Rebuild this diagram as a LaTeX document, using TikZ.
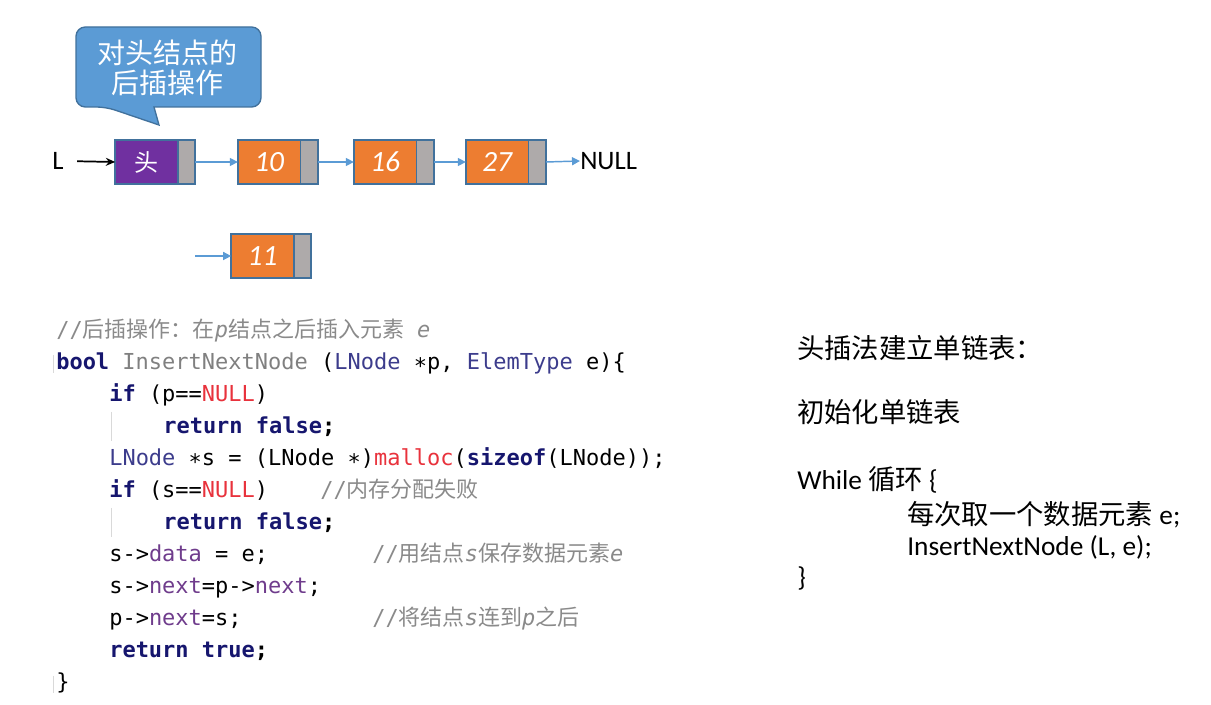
\documentclass[tikz,border=0pt]{standalone}
\usepackage{fontspec}
\setmainfont{Carlito}
\newfontfamily\cjk{Noto Sans CJK SC}
\newfontfamily\codefont{DejaVu Sans Mono}
\usetikzlibrary{positioning, arrows.meta}

\begin{document}
\begin{tikzpicture}[x=0.75pt, y=-0.75pt,
    cell/.style={rectangle, draw=cellborder, line width=1.3pt, inner sep=0pt,
                 outer sep=0pt, minimum height=33pt, text=white},
    datacell/.style={cell, fill=cellorange, minimum width=47pt,
                     font=\fontsize{22}{24}\selectfont\itshape},
    ptrcell/.style={cell, fill=cellgray, minimum width=13pt},
    link/.style={line width=1.1pt, arrowblue,
                 -{Triangle[length=6pt, width=6pt]}},
    code/.style={anchor=base west, inner sep=0pt,
                 font=\codefont\fontsize{16.5}{18}\selectfont},
    note/.style={anchor=base west, inner sep=0pt,
                 font=\fontsize{20.5}{22}\selectfont},
    guide/.style={line width=0.6pt, black!15}
]
% Office-Farben der Folie: Knoten orange/grau, Kopf violett
\definecolor{cellorange}{HTML}{ED7D31}
\definecolor{cellgray}{HTML}{AEAAAA}
\definecolor{cellborder}{HTML}{41719C}
\definecolor{headpurple}{HTML}{7030A0}
\definecolor{arrowblue}{HTML}{5B9BD5}
\definecolor{balloonblue}{HTML}{5B9BD5}
% Syntaxfarben des Codeausschnitts
\definecolor{kw}{HTML}{16166E}
\definecolor{ty}{HTML}{3C3C8C}
\definecolor{fn}{HTML}{808080}
\definecolor{nul}{HTML}{E8323C}
\definecolor{fld}{HTML}{6F3C8C}
\definecolor{cmt}{HTML}{8A8A8A}

\useasboundingbox (0,0) rectangle (1211,705);

% Sprechblase
\draw[fill=balloonblue, draw=cellborder, line width=1pt]
    (154,107) [rounded corners=7pt] -- (261,107) -- (261,27) -- (76,27)
    -- (76,107) -- (106,107) [sharp corners] -- (159,125) -- cycle;
\node[font=\cjk\fontsize{21}{22}\selectfont, text=white, align=center]
    (tip) at (167,68) {对头结点的\\后插操作};

% Liste
\node[font=\fontsize{20}{22}\selectfont, inner sep=0pt] (L) at (58,161) {L};
\node[cell, fill=headpurple, minimum width=47pt,
      font=\cjk\fontsize{18}{20}\selectfont] (h) at (146.5,162) {头};
\node[ptrcell, right=0pt of h] (hp) {};
\node[datacell, right=32pt of hp] (n10) {10};
\node[ptrcell, right=0pt of n10] (n10p) {};
\node[datacell, right=27pt of n10p] (n16) {16};
\node[ptrcell, right=0pt of n16] (n16p) {};
\node[datacell, right=24pt of n16p] (n27) {27};
\node[ptrcell, right=0pt of n27] (n27p) {};
\node[font=\fontsize{20}{22}\selectfont, inner sep=0pt, anchor=west]
    (null) at (580,161) {NULL};
\node[datacell] (n11) at (262.5,256) {11};
\node[ptrcell, right=0pt of n11] (n11p) {};
\coordinate (in11) at (195,256);

\draw[line width=1.3pt, shorten <=10pt, -{Stealth[length=7pt, width=6pt]}]
    (L.east) -- (h.west);
\draw[link] (hp.east) -- (n10.west);
\draw[link] (n10p.east) -- (n16.west);
\draw[link] (n16p.east) -- (n27.west);
\draw[link] (n27p.east) -- (null.west);
\draw[link] (in11) -- (n11.west);

% Code
\draw[guide] (53,355) -- (53,373);
\draw[guide] (111,412) -- (111,441);
\draw[guide] (111,508) -- (111,537);
\draw[guide] (53,676) -- (53,693);
\node[code] (c1) at (56,338) {\color{cmt}//{\cjk 后插操作：在}\textit{p}{\cjk 结点之后插入元素} \textit{e}};
\node[code] (c2) at (56,370) {{\bfseries\color{kw}bool} {\color{fn}InsertNextNode} ({\color{ty}LNode} ∗p, {\color{ty}ElemType} e)\{};
\node[code] (c3) at (109,402) {{\bfseries\color{kw}if} (p==\textcolor{nul}{NULL})};
\node[code] (c4) at (163,434) {\bfseries{\color{kw}return false};};
\node[code] (c5) at (109,466) {{\color{ty}LNode} ∗s = (LNode ∗)\textcolor{nul}{malloc}({\bfseries\color{kw}sizeof}(LNode));};
\node[code] (c6) at (109,498) {{\bfseries\color{kw}if} (s==\textcolor{nul}{NULL})};
\node[code] (c6c) at (320,498) {\color{cmt}//{\cjk 内存分配失败}};
\node[code] (c7) at (163,530) {\bfseries{\color{kw}return false};};
\node[code] (c8) at (109,562) {s->\textcolor{fld}{data} = e;};
\node[code] (c8c) at (372,562) {\color{cmt}//{\cjk 用结点}\textit{s}{\cjk 保存数据元素}\textit{e}};
\node[code] (c9) at (109,594) {s->\textcolor{fld}{next}=p->\textcolor{fld}{next};};
\node[code] (c10) at (109,626) {p->\textcolor{fld}{next}=s;};
\node[code] (c10c) at (372,626) {\color{cmt}//{\cjk 将结点}\textit{s}{\cjk 连到}\textit{p}{\cjk 之后}};
\node[code] (c11) at (109,658) {\bfseries{\color{kw}return true};};
\node[code] (c12) at (56,690) {\}};

% Rechte Spalte
\node[note] (t1) at (797,359) {\cjk 头插法建立单链表：};
\node[note] (t2) at (797,423) {\cjk 初始化单链表};
\node[note] (t3) at (797,490) {While {\cjk 循环} \{};
\node[note] (t4) at (907,525) {{\cjk 每次取一个数据元素} e;};
\node[note] (t5) at (907,556) {InsertNextNode (L, e);};
\node[note] (t6) at (797,587) {\}};
\end{tikzpicture}
\end{document}
